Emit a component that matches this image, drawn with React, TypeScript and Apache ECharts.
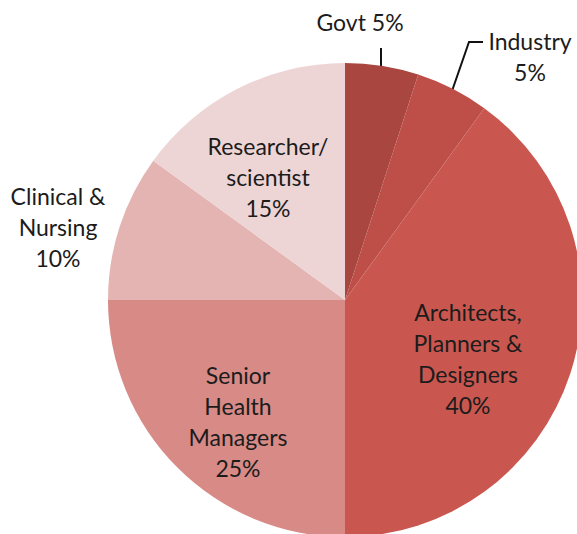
import React, { useEffect, useRef } from "react";
import * as echarts from "echarts";

const categories = [
  "Govt",
  "Industry",
  "Architects,\nPlanners &\nDesigners",
  "Senior\nHealth\nManagers",
  "Clinical &\nNursing",
  "Researcher/\nscientist",
];
const values = [5, 5, 40, 25, 10, 15];
const colors = ["#a8463f", "#bd4f48", "#c9574f", "#d78a86", "#e4b4b2", "#eed5d5"];

// label anchor positions (centre of text block) in px
const labelPos: [number, number][] = [
  [360, 22],
  [530, 56],
  [468, 358],
  [238, 421],
  [58, 227],
  [268, 177],
];
const linePts: ([number, number][] | null)[] = [
  [[381, 67], [381, 58], [381, 48]],
  [[452, 91], [469, 42], [483, 42]],
  null,
  null,
  null,
  null,
];

export default function App() {
  const ref = useRef<HTMLDivElement>(null);
  useEffect(() => {
    const chart = echarts.init(ref.current!, null, { renderer: "svg" });
    chart.setOption({
      animation: false,
      series: [
        {
          type: "pie",
          center: [345, 300],
          radius: 237,
          startAngle: 90,
          clockwise: true,
          avoidLabelOverlap: false,
          itemStyle: { borderWidth: 0 },
          emphasis: { disabled: true },
          data: categories.map((name, i) => ({
            name,
            value: values[i],
            itemStyle: { color: colors[i] },
            label: {
              show: true,
              position: linePts[i] ? "outside" : "inside",
              formatter: i === 0 ? "{b} {c}%" : "{b}\n{c}%",
            },
            labelLine: {
              show: !!linePts[i],
              lineStyle: { color: "#111", width: 2 },
            },
          })),
          label: {
            color: "#1c1c1c",
            fontFamily: "Lato",
            fontSize: 23,
            lineHeight: 31,
            align: "center",
          },
          labelLayout: (p: any) => {
            const i = p.dataIndex;
            const [x, y] = labelPos[i];
            const res: any = { x, y, align: "center", verticalAlign: "middle" };
            if (linePts[i]) res.labelLinePoints = linePts[i];
            return res;
          },
        },
      ],
    });
    return () => chart.dispose();
  }, []);
  return (
    <div
      ref={ref}
      style={{ position: "fixed", left: 0, top: 0, width: 577, height: 534, background: "#fff" }}
    />
  );
}
